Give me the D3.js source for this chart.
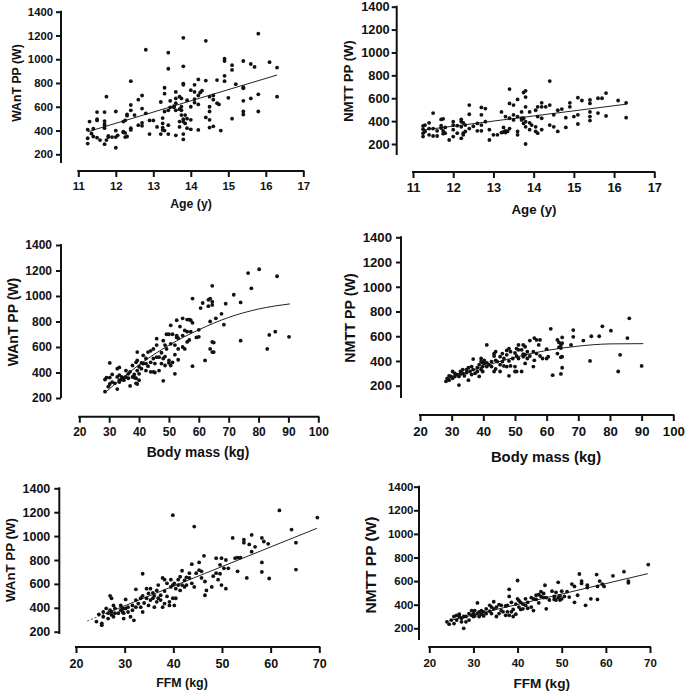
<!DOCTYPE html>
<html><head><meta charset="utf-8">
<script src="https://cdn.jsdelivr.net/npm/d3@7"></script>
<style>
body{margin:0;background:#fff}
svg{display:block}
text{font-family:"Liberation Sans",Arial,sans-serif;font-weight:bold;fill:#111}
</style>
</head><body><svg id="c" width="685" height="692"></svg>
<script>
// ---------- tick labels ----------
const ageTicks = [11,12,13,14,15,16,17];
const massTicks = [20,30,40,50,60,70,80,90,100];
const ffmTicks = [20,30,40,50,60,70];
const ppTicks = [200,400,600,800,1000,1200,1400];

// ---------- data: [x, peak power W] ----------
const ageWant = [[11.25,408],[11.25,335],[11.25,290],[11.3,475],[11.35,375],[11.4,350],[11.4,415],[11.5,555],[11.5,495],[11.5,485],[11.5,340],[11.58,320],[11.7,555],[11.7,480],[11.7,455],[11.7,440],[11.7,420],[11.7,285],[11.75,685],[11.75,320],[11.8,355],[11.8,345],[11.9,345],[12,560],[12,400],[12,345],[12,255],[12.05,360],[12.2,475],[12.2,390],[12.2,385],[12.25,485],[12.25,380],[12.25,345],[12.3,535],[12.3,525],[12.3,350],[12.4,815],[12.4,615],[12.4,570],[12.4,420],[12.4,405],[12.5,530],[12.6,660],[12.6,445],[12.7,695],[12.7,585],[12.7,465],[12.7,440],[12.8,1080],[12.8,545],[12.9,485],[12.9,370],[13,485],[13.1,430],[13.2,640],[13.2,370],[13.25,505],[13.25,460],[13.25,425],[13.25,405],[13.3,760],[13.3,710],[13.3,560],[13.3,400],[13.4,1055],[13.4,920],[13.4,570],[13.4,445],[13.4,370],[13.45,650],[13.45,595],[13.55,605],[13.55,595],[13.6,725],[13.6,670],[13.6,630],[13.6,570],[13.6,360],[13.7,685],[13.7,580],[13.7,475],[13.7,430],[13.75,670],[13.75,600],[13.75,570],[13.75,530],[13.8,1180],[13.8,940],[13.8,795],[13.8,785],[13.8,495],[13.8,475],[13.8,370],[13.8,325],[13.85,530],[13.85,460],[13.9,655],[13.9,500],[13.9,420],[14,740],[14,600],[14,490],[14,410],[14.1,785],[14.1,725],[14.1,665],[14.1,635],[14.2,830],[14.2,695],[14.2,620],[14.2,405],[14.25,720],[14.3,735],[14.4,1155],[14.4,820],[14.4,510],[14.5,685],[14.5,600],[14.5,560],[14.5,490],[14.5,425],[14.6,695],[14.6,660],[14.6,435],[14.7,825],[14.7,630],[14.75,620],[14.8,400],[14.9,1005],[14.9,985],[14.9,860],[14.9,815],[15,675],[15.1,950],[15.1,910],[15.1,500],[15.2,790],[15.4,985],[15.4,765],[15.4,755],[15.4,650],[15.4,560],[15.4,535],[15.6,960],[15.6,670],[15.7,935],[15.8,1215],[15.8,705],[15.8,560],[16.1,975],[16.3,930],[16.3,685]];

const ageNmtt = [[11.25,358],[11.25,330],[11.25,295],[11.25,265],[11.3,310],[11.3,365],[11.4,385],[11.4,335],[11.4,280],[11.5,470],[11.5,335],[11.5,270],[11.6,315],[11.6,270],[11.7,415],[11.7,360],[11.7,340],[11.75,420],[11.75,315],[11.75,290],[11.8,345],[11.8,295],[11.9,235],[12,395],[12,365],[12,325],[12,265],[12.1,360],[12.1,295],[12.2,415],[12.2,395],[12.2,350],[12.2,250],[12.25,385],[12.25,295],[12.25,280],[12.3,365],[12.3,310],[12.4,540],[12.4,460],[12.4,335],[12.5,355],[12.6,380],[12.6,315],[12.7,520],[12.7,455],[12.7,365],[12.7,315],[12.8,510],[12.8,395],[12.9,325],[12.9,235],[13,280],[13.1,280],[13.2,480],[13.2,300],[13.25,345],[13.25,305],[13.3,440],[13.3,315],[13.3,300],[13.35,310],[13.4,680],[13.4,555],[13.4,425],[13.4,335],[13.5,540],[13.5,455],[13.5,410],[13.6,590],[13.6,440],[13.6,310],[13.6,280],[13.7,480],[13.7,425],[13.7,410],[13.75,650],[13.75,425],[13.75,380],[13.8,665],[13.8,610],[13.8,525],[13.8,395],[13.8,350],[13.8,200],[13.9,480],[13.9,385],[13.9,325],[13.95,365],[14.05,495],[14.05,350],[14.05,310],[14.1,525],[14.1,440],[14.1,295],[14.2,560],[14.2,525],[14.2,425],[14.2,325],[14.3,525],[14.4,750],[14.4,540],[14.4,365],[14.5,455],[14.5,350],[14.6,495],[14.6,310],[14.7,505],[14.8,430],[14.8,345],[14.9,560],[14.9,525],[15,440],[15.1,605],[15.1,455],[15.1,375],[15.2,580],[15.4,585],[15.4,555],[15.4,480],[15.4,440],[15.4,405],[15.6,600],[15.6,470],[15.7,600],[15.8,645],[15.8,445],[16.1,580],[16.3,560],[16.3,430]];

const massWant = [[28.6,345],[28.6,250],[29.1,360],[29.7,290],[30.2,475],[30.2,360],[30.2,310],[31,385],[31,325],[31.9,315],[32.7,430],[32.7,365],[32.7,270],[33.4,440],[33.4,380],[33.4,340],[33.4,325],[34.2,365],[34.2,345],[34.9,355],[34.9,340],[35.6,415],[35.6,365],[36.4,390],[36.4,355],[37,295],[37,405],[37.8,365],[37.8,455],[38.4,385],[38.4,360],[39,480],[39,355],[39,315],[39.4,560],[39.4,495],[39.4,415],[39.4,310],[40,445],[40,390],[40,340],[40.8,475],[40.8,430],[41.4,535],[41.4,470],[42.3,510],[42.3,470],[42.3,415],[43,560],[43,450],[43.9,570],[43.9,480],[43.9,405],[44.8,585],[44.8,510],[44.8,405],[45.3,470],[45.3,400],[45.9,665],[45.9,615],[45.9,520],[46.7,520],[46.7,415],[47.5,555],[47.5,470],[48.1,650],[48.1,335],[48.1,510],[48.7,615],[48.7,525],[48.7,455],[49.2,700],[49.2,585],[50,700],[50,495],[50,475],[50.6,770],[50.6,625],[50.6,455],[51.2,700],[51.2,480],[52,615],[52,540],[52,390],[52.6,810],[52.6,690],[52.6,675],[53.1,670],[53.1,585],[53.1,500],[53.7,760],[54.6,825],[54.6,690],[54.6,600],[55.3,730],[55.3,585],[56.1,815],[56.1,720],[56.1,640],[56.8,815],[56.8,655],[57.3,810],[57.3,720],[57.9,980],[57.9,790],[57.9,450],[59.2,675],[60,735],[60,680],[60.6,905],[61.3,945],[62.1,495],[63.2,920],[63.2,970],[63.8,980],[63.8,800],[63.8,585],[64.5,1080],[64.5,955],[64.5,930],[64.5,640],[64.5,560],[65,635],[65,560],[65.7,825],[67.6,860],[68.4,775],[69,940],[71.7,1010],[74,950],[74,650],[76.5,1180],[77.6,1060],[80.2,1210],[82.9,585],[83.6,695],[85.6,720],[86.2,1155],[90.2,680]];

const massNmtt = [[28.2,235],[28.6,260],[29.2,280],[29.2,245],[29.8,275],[30.3,315],[30.3,260],[31,300],[31,275],[31.8,290],[32.3,205],[32.3,275],[32.8,315],[32.8,295],[33.5,300],[33.5,330],[34,280],[34.7,330],[34.7,305],[35.3,245],[35.3,345],[35.8,315],[36.3,355],[36.3,290],[36.8,415],[36.8,330],[37.4,300],[38.1,345],[38.1,315],[38.7,370],[38.7,275],[39.3,420],[39.3,395],[39.3,330],[39.8,385],[39.8,355],[39.8,315],[40.3,380],[40.3,405],[41.1,530],[41.1,385],[41.1,355],[41.8,370],[42.6,395],[42.6,355],[43.4,460],[43.4,440],[43.4,315],[43.9,475],[43.9,405],[43.9,335],[44.4,395],[45.3,435],[45.3,370],[45.3,315],[46,460],[46,395],[46.5,420],[46.5,360],[47.4,485],[47.4,450],[47.4,355],[48.1,500],[48.1,400],[48.1,280],[48.6,475],[48.6,360],[49.3,420],[50,465],[50,355],[50,315],[50.5,500],[50.5,440],[50.5,315],[51.1,530],[51.1,490],[51.1,420],[52.1,490],[52.1,315],[52.6,530],[52.6,455],[52.6,435],[53.2,515],[53.2,450],[53.2,380],[53.9,475],[53.9,420],[54.7,565],[54.7,440],[55.8,475],[55.8,355],[56.1,585],[56.1,405],[56.8,570],[56.8,460],[57.5,530],[57.9,570],[57.9,440],[58.7,420],[60,495],[60,420],[60.5,435],[61.3,660],[61.9,285],[63.4,570],[63.4,460],[63.9,550],[63.9,510],[64.5,530],[64.5,505],[64.5,430],[64.5,295],[64.9,590],[64.9,545],[64.9,435],[64.9,345],[67.7,530],[68.4,650],[68.4,595],[71.6,565],[73.7,400],[74.1,600],[76.6,600],[77.6,680],[80.3,645],[82.6,315],[83.2,450],[85.5,585],[86.1,745],[90,360]];

const ffmWant = [[24.2,285],[24.7,345],[25.3,270],[25.3,255],[25.6,365],[25.6,325],[26.2,395],[26.6,355],[26.6,310],[27,500],[27,380],[27.3,480],[27.3,365],[27.3,340],[27.7,420],[27.7,325],[28,395],[28,355],[28.7,355],[29.2,380],[29.2,420],[29.6,395],[29.6,365],[29.8,355],[29.8,310],[30.2,470],[30.2,395],[30.7,405],[30.7,365],[31.2,325],[31.6,420],[31.6,380],[31.9,295],[32.3,555],[32.3,465],[32.3,405],[32.8,435],[33.3,480],[33.3,405],[33.7,685],[33.7,500],[33.7,365],[34,440],[34.5,560],[34.5,480],[34.9,520],[34.9,420],[35.3,560],[35.3,465],[35.8,525],[35.8,480],[36.1,500],[36.1,405],[36.6,545],[36.6,450],[36.9,590],[36.9,480],[37.4,505],[37.4,465],[37.8,650],[37.8,405],[38.2,635],[38.2,540],[38.2,435],[38.7,605],[38.7,495],[39.2,450],[39.2,420],[39.5,635],[39.5,575],[39.9,1175],[39.9,590],[39.9,480],[40.2,605],[40.2,420],[40.5,560],[40.5,480],[41,635],[41,590],[41.4,660],[41.4,545],[41.8,710],[41.8,590],[42.3,630],[42.3,575],[42.7,655],[42.7,590],[43.3,690],[43.3,650],[43.8,765],[43.8,605],[44.3,1080],[44.3,575],[44.7,690],[45.3,780],[45.3,715],[45.8,705],[45.8,650],[46.3,835],[46.5,620],[46.5,505],[46.8,545],[47.9,575],[48.2,665],[48.8,815],[48.8,690],[49.2,635],[49.6,760],[49.6,685],[49.9,815],[49.9,590],[50.4,730],[50.8,800],[50.8,560],[51.3,730],[52.2,985],[52.7,815],[53.2,820],[53.2,705],[53.8,820],[54.5,945],[54.5,970],[55.1,650],[55.6,930],[56.1,1010],[56.1,870],[56.8,910],[58.2,985],[58.2,780],[58.2,700],[58.6,955],[59.5,935],[59.7,645],[61.8,1215],[64.3,1055],[65.2,945],[65.2,720],[69.6,1155]];

const ffmNmtt = [[24,255],[24.5,235],[25,270],[25.6,300],[25.6,240],[26.2,310],[26.2,270],[26.8,300],[26.8,320],[27.3,285],[27.3,255],[27.8,200],[27.8,300],[28.3,300],[28.3,255],[29,270],[29,325],[29.6,350],[29.6,310],[30,325],[30,300],[30.3,350],[30.3,305],[30.9,415],[30.9,325],[31.3,300],[31.3,340],[31.8,320],[31.8,350],[32.3,305],[32.3,340],[32.9,325],[32.9,365],[33.7,395],[33.7,345],[34.1,325],[34.1,380],[34.6,425],[34.6,365],[35.2,380],[35.2,300],[35.8,400],[35.8,325],[36.3,395],[36.3,350],[36.7,340],[37.3,390],[37.3,310],[37.7,395],[37.7,340],[38.1,470],[38.1,530],[38.1,310],[38.6,340],[38.6,420],[39,360],[39,300],[39.6,405],[39.6,320],[40,605],[40,450],[40.3,380],[40.3,435],[40.7,360],[40.7,420],[41.2,405],[41.2,365],[41.8,395],[41.8,450],[42.3,420],[42.3,370],[43.1,460],[43.1,380],[43.6,450],[43.6,350],[44.2,480],[44.2,445],[44.8,485],[44.8,415],[45.3,510],[45.3,470],[45.9,495],[45.9,460],[46.2,565],[46.5,365],[46.5,460],[47.2,440],[47.8,515],[48.3,470],[48.3,445],[48.7,440],[48.7,505],[49.2,590],[49.2,460],[49.6,440],[49.6,475],[50,515],[50,450],[50.6,470],[51.2,510],[51.7,465],[52.3,575],[52.9,555],[52.9,420],[53.6,480],[54,660],[54.5,600],[54.5,580],[55.4,395],[55.8,565],[55.8,545],[56.6,450],[57.9,655],[58.1,555],[58.1,445],[58.6,600],[59.2,575],[59.6,555],[61.6,645],[64.1,680],[65.1,600],[65.1,585],[69.6,740]];

// ---------- fitted lines / curves ----------
const fitAgeWant = [[11.25,390],[16.3,867]];
const fitAgeNmtt = [[11.25,322],[16.3,548]];
const fitMassWant = [[29,250],[40,460],[50,614],[60,735],[70,832],[80,898],[90.5,938]];
const fitMassNmtt = [[29,258],[40,355],[50,430],[60,485],[70,520],[80,538],[90.5,540]];
const fitFfmWantDash = [[22.3,290],[26,351]];
const fitFfmWant = [[26,351],[69.5,1065]];
const fitFfmNmtt = [[24.5,265],[69.5,663]];

// ---------- layout of the six panels ----------
const panels = [
 {data:ageWant, fits:[[fitAgeWant,false]], xd:[11,17], xt:ageTicks, xl:"Age (y)", yl:"WAnT PP (W)",
  ax:61, yT:11.7, yB:154.3, yE:163, ay:171, xL:78.3, xR:303.3, tf:11.3, tg:8, xly:186, xlx:191, xty:204, xtf:12.3, ylx:17, yly:83, ylf:12.3, curve:false},
 {data:ageNmtt, fits:[[fitAgeNmtt,false]], xd:[11,17], xt:ageTicks, xl:"Age (y)", yl:"NMTT PP (W)",
  ax:396.7, yT:6.7, yB:144, yE:155, ay:172, xL:413, xR:654.3, tf:12.8, tg:7, xly:188, xlx:534, xty:209, xtf:13.3, ylx:348, yly:81, ylf:13, curve:false},
 {data:massWant, fits:[[fitMassWant,false]], xd:[20,100], xt:massTicks, xl:"Body mass (kg)", yl:"WAnT PP (W)",
  ax:61, yT:245, yB:398, yE:398, ay:416.7, xL:79.3, xR:318.3, tf:12, tg:9, xly:432, xlx:198, xty:452, xtf:13.8, ylx:13, yly:322, ylf:14, curve:true},
 {data:massNmtt, fits:[[fitMassNmtt,false]], xd:[20,100], xt:massTicks, xl:"Body mass (kg)", yl:"NMTT PP (W)",
  ax:401, yT:237.3, yB:385.7, yE:398, ay:415, xL:420, xR:673.3, tf:13.2, tg:9, xly:431, xlx:546, xty:457, xtf:14.8, ylx:350, yly:318, ylf:14.3, curve:true},
 {data:ffmWant, fits:[[fitFfmWantDash,true],[fitFfmWant,false]], xd:[20,70], xt:ffmTicks, xl:"FFM (kg)", yl:"WAnT PP (W)",
  ax:59.3, yT:488.3, yB:631.7, yE:634, ay:647, xL:76, xR:319.3, tf:12.5, tg:9, xly:663.5, xlx:182, xty:683, xtf:12.4, ylx:10, yly:560, ylf:13.3, curve:false},
 {data:ffmNmtt, fits:[[fitFfmNmtt,false]], xd:[20,70], xt:ffmTicks, xl:"FFM (kg)", yl:"NMTT PP (W)",
  ax:419, yT:486.7, yB:628.3, yE:640, ay:647, xL:429.3, xR:650, tf:11.5, tg:5.5, xly:663.3, xlx:541.7, xty:683, xtf:13.6, ylx:371, yly:565, ylf:15.5, curve:false}
];

const svg = d3.select("#c");
const ink = "#111";

panels.forEach(p => {
  const g = svg.append("g");
  const x = d3.scaleLinear().domain(p.xd).range([p.xL, p.xR]);
  const y = d3.scaleLinear().domain([200,1400]).range([p.yB, p.yT]);

  // y axis
  const yAx = d3.axisLeft(y).tickValues(ppTicks).tickSize(5).tickPadding(p.tg - 5).tickFormat(d3.format("d"));
  const ya = g.append("g").attr("transform", `translate(${p.ax},0)`).call(yAx);
  ya.select(".domain").remove();
  ya.append("line").attr("x1",0).attr("x2",0).attr("y1",y(1400)-1).attr("y2",p.yE)
    .attr("stroke",ink).attr("stroke-width",2);
  ya.selectAll(".tick line").attr("stroke",ink).attr("stroke-width",2);
  ya.selectAll(".tick text").attr("font-size",p.tf).attr("fill",ink)
    .attr("font-family","'Liberation Sans',Arial,sans-serif").attr("font-weight","bold");

  // x axis
  const xAx = d3.axisBottom(x).tickValues(p.xt).tickSize(6).tickFormat(d3.format("d"));
  const xa = g.append("g").attr("transform", `translate(0,${p.ay})`).call(xAx);
  xa.select(".domain").remove();
  xa.append("line").attr("x1",p.xL-1).attr("x2",p.xR+1).attr("y1",0).attr("y2",0)
    .attr("stroke",ink).attr("stroke-width",2);
  xa.selectAll(".tick line").attr("stroke",ink).attr("stroke-width",2);
  xa.selectAll(".tick text").attr("font-size",p.tf).attr("fill",ink)
    .attr("font-family","'Liberation Sans',Arial,sans-serif").attr("font-weight","bold")
    .attr("y", p.xly - p.ay).attr("dy","0.35em");

  // titles
  g.append("text").attr("x",p.xlx).attr("y",p.xty).attr("dy","0.35em")
    .attr("text-anchor","middle").attr("font-size",p.xtf).text(p.xl);
  g.append("text").attr("transform",`translate(${p.ylx},${p.yly}) rotate(-90)`).attr("dy","0.35em")
    .attr("text-anchor","middle").attr("font-size",p.ylf).text(p.yl);

  // fit lines
  const line = d3.line().x(d=>x(d[0])).y(d=>y(d[1])).curve(p.curve ? d3.curveMonotoneX : d3.curveLinear);
  p.fits.forEach(([pts,dash]) => {
    g.append("path").attr("d", line(pts)).attr("fill","none")
      .attr("stroke", dash ? "#555" : "#222").attr("stroke-width", 1)
      .attr("stroke-dasharray", dash ? "2,2" : null);
  });

  // points
  g.append("g").selectAll("circle").data(p.data).join("circle")
    .attr("cx", d=>x(d[0])).attr("cy", d=>y(d[1])).attr("r", 1.9).attr("fill", ink);
});
</script>
</body></html>
